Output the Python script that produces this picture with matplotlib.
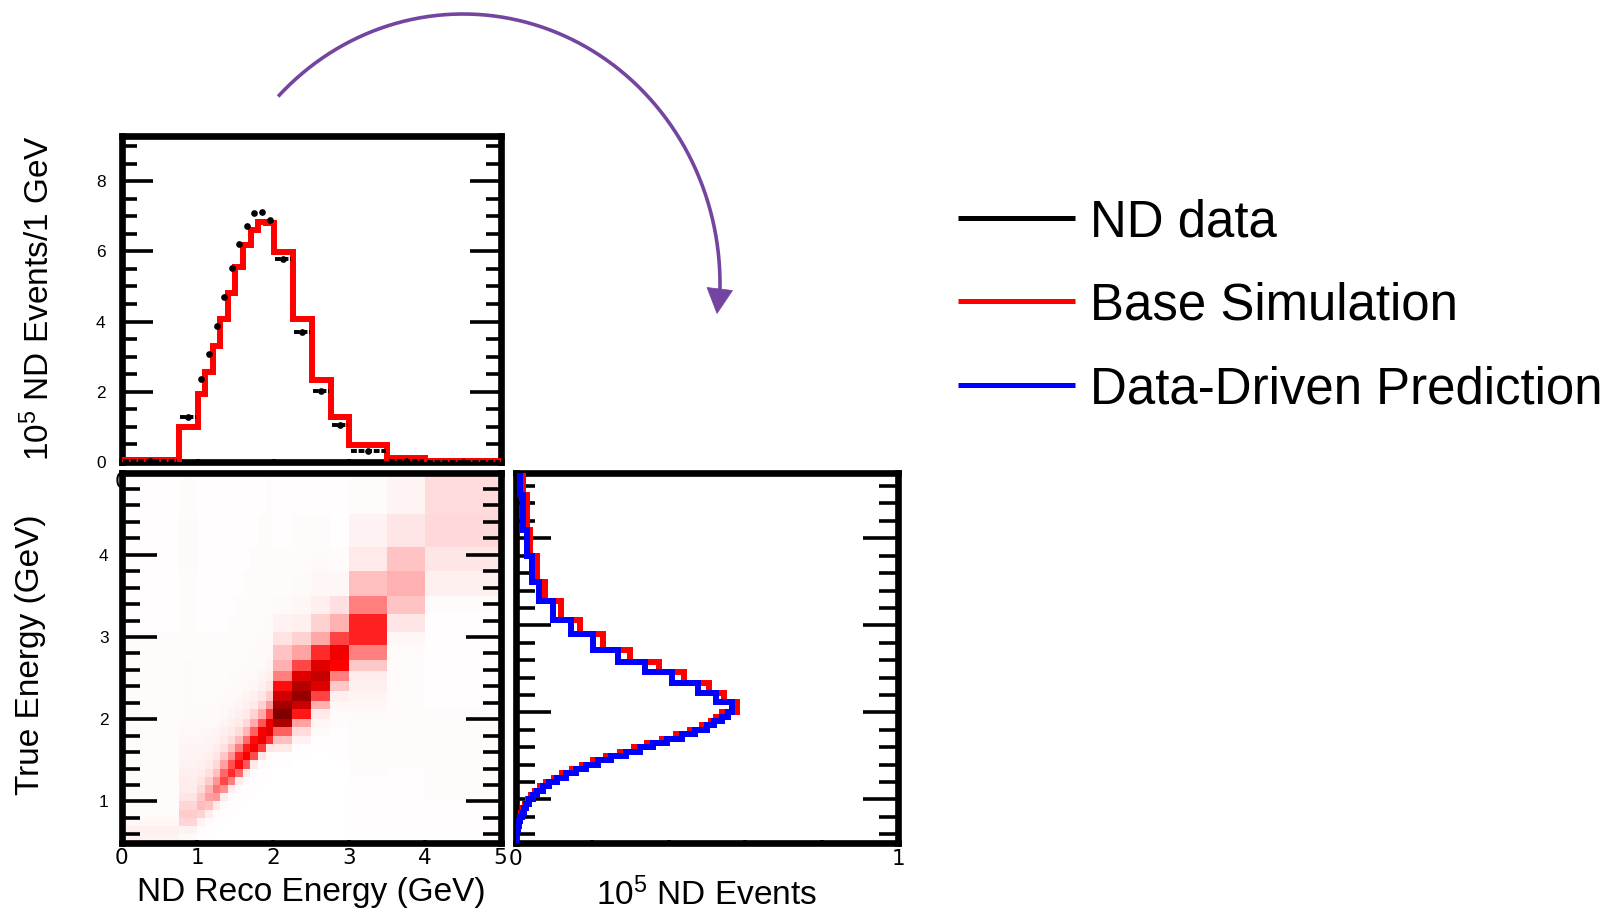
import numpy as np
import matplotlib
matplotlib.use("Agg")
import matplotlib.pyplot as plt
from matplotlib.colors import LinearSegmentedColormap
from matplotlib.ticker import FixedLocator, FixedFormatter
from matplotlib.patches import Polygon

plt.rcParams['font.family'] = ['Liberation Sans', 'DejaVu Sans']
plt.rcParams['mathtext.fontset'] = 'custom'
plt.rcParams['mathtext.rm'] = 'Liberation Sans'
plt.rcParams['mathtext.it'] = 'Liberation Sans:italic'
plt.rcParams['mathtext.bf'] = 'Liberation Sans:bold'

# ---------------- data ----------------
reco_edges = [0, 0.75, 1.0, 1.1, 1.2, 1.3, 1.4, 1.5, 1.6, 1.7, 1.8, 1.9, 2.0,
              2.25, 2.5, 2.75, 3.0, 3.5, 4.0, 5.0]
sim_reco = [0.07, 1.0, 1.95, 2.56, 3.30, 4.06, 4.82, 5.56, 6.17, 6.62, 6.84, 6.80,
            5.98, 4.08, 2.33, 1.28, 0.47, 0.10, 0.03]
data_reco = [0.02, 1.28, 2.37, 3.07, 3.88, 4.70, 5.53, 6.22, 6.72, 7.09, 7.12, 6.90,
             5.77, 3.70, 2.02, 1.04, 0.30, 0.03, 0.01]

true_edges = [0.5, 0.6, 0.7, 0.8, 0.9, 1.0, 1.1, 1.2, 1.3, 1.4, 1.5, 1.6, 1.7, 1.8, 1.9,
              2.0, 2.12, 2.22, 2.34, 2.46, 2.58, 2.72, 2.9, 3.06, 3.28, 3.5, 3.8, 4.1, 4.5, 5.0]

# 2D cell contents (relative), one list per reco-energy bin, from low to high true energy
cells_by_reco_bin = [
    [0.03, 0.035, 0.02, 0.012, 0.01, 0.01, 0.01, 0.01, 0.01, 0.01, 0.01, 0.01, 0.01, 0.01, 0.01, 0.01,
     0.008, 0.008, 0.008, 0.008, 0.008, 0.008, 0.008, 0.006, 0.006, 0.006, 0.005, 0.005, 0.005],
    [0.015, 0.03, 0.09, 0.11, 0.09, 0.06, 0.045, 0.04, 0.035, 0.03, 0.027, 0.024, 0.02, 0.018, 0.015,
     0.015, 0.013, 0.013, 0.012, 0.012, 0.012, 0.011, 0.011, 0.011, 0.01, 0.01, 0.012, 0.012, 0.008],
    [0.005, 0.008, 0.03, 0.1, 0.15, 0.12, 0.085, 0.06, 0.045, 0.035, 0.03, 0.025, 0.022, 0.018, 0.015,
     0.012, 0.012, 0.011, 0.01, 0.01, 0.01, 0.008, 0.008, 0.007, 0.007, 0.006, 0.006, 0.005, 0.005],
    [0.004, 0.005, 0.01, 0.04, 0.13, 0.21, 0.17, 0.11, 0.07, 0.05, 0.038, 0.03, 0.025, 0.02, 0.017,
     0.014, 0.012, 0.011, 0.01, 0.01, 0.009, 0.008, 0.008, 0.007, 0.006, 0.006, 0.005, 0.005, 0.004],
    [0.003, 0.004, 0.005, 0.01, 0.05, 0.22, 0.3, 0.23, 0.14, 0.085, 0.055, 0.04, 0.03, 0.024, 0.019,
     0.015, 0.013, 0.012, 0.011, 0.01, 0.009, 0.008, 0.008, 0.007, 0.006, 0.006, 0.005, 0.005, 0.004],
    [0.003, 0.003, 0.004, 0.005, 0.008, 0.04, 0.24, 0.4, 0.33, 0.21, 0.12, 0.07, 0.045, 0.032, 0.025,
     0.019, 0.016, 0.013, 0.012, 0.011, 0.01, 0.009, 0.008, 0.007, 0.006, 0.006, 0.005, 0.005, 0.004],
    [0.003, 0.003, 0.003, 0.004, 0.005, 0.008, 0.04, 0.28, 0.46, 0.38, 0.24, 0.14, 0.075, 0.048, 0.034,
     0.025, 0.019, 0.015, 0.013, 0.012, 0.011, 0.01, 0.009, 0.008, 0.007, 0.006, 0.006, 0.005, 0.005],
    [0.003, 0.003, 0.003, 0.003, 0.004, 0.005, 0.008, 0.04, 0.33, 0.53, 0.46, 0.28, 0.15, 0.08, 0.048,
     0.033, 0.024, 0.018, 0.015, 0.013, 0.012, 0.011, 0.01, 0.009, 0.008, 0.007, 0.006, 0.006, 0.005],
    [0.002, 0.003, 0.003, 0.003, 0.003, 0.004, 0.005, 0.008, 0.045, 0.36, 0.56, 0.49, 0.31, 0.16, 0.085,
     0.05, 0.033, 0.024, 0.018, 0.015, 0.013, 0.012, 0.011, 0.01, 0.009, 0.008, 0.007, 0.006, 0.006],
    [0.002, 0.002, 0.003, 0.003, 0.003, 0.003, 0.004, 0.005, 0.008, 0.05, 0.39, 0.59, 0.53, 0.34, 0.18,
     0.095, 0.05, 0.032, 0.023, 0.018, 0.015, 0.013, 0.012, 0.011, 0.01, 0.009, 0.008, 0.007, 0.006],
    [0.002, 0.002, 0.002, 0.003, 0.003, 0.003, 0.003, 0.004, 0.005, 0.008, 0.055, 0.42, 0.61, 0.57, 0.37,
     0.19, 0.1, 0.055, 0.034, 0.024, 0.018, 0.015, 0.013, 0.012, 0.011, 0.01, 0.009, 0.008, 0.007],
    [0.002, 0.002, 0.002, 0.002, 0.003, 0.003, 0.003, 0.003, 0.004, 0.005, 0.008, 0.06, 0.45, 0.64, 0.62,
     0.41, 0.22, 0.11, 0.06, 0.036, 0.025, 0.018, 0.015, 0.013, 0.012, 0.011, 0.01, 0.009, 0.008],
    [0.002, 0.002, 0.002, 0.002, 0.002, 0.003, 0.003, 0.003, 0.003, 0.004, 0.006, 0.05, 0.14, 0.34, 0.82,
     0.98, 0.87, 0.71, 0.52, 0.28, 0.17, 0.13, 0.065, 0.03, 0.015, 0.01, 0.008, 0.007, 0.006],
    [0.002, 0.002, 0.002, 0.002, 0.002, 0.002, 0.002, 0.003, 0.003, 0.003, 0.004, 0.006, 0.03, 0.08, 0.2,
     0.5, 0.72, 0.9, 0.8, 0.655, 0.4, 0.2, 0.1, 0.037, 0.02, 0.012, 0.009, 0.008, 0.007],
    [0.002, 0.002, 0.002, 0.002, 0.002, 0.002, 0.002, 0.002, 0.003, 0.003, 0.003, 0.004, 0.006, 0.012, 0.02,
     0.05, 0.17, 0.41, 0.655, 0.74, 0.655, 0.46, 0.19, 0.1, 0.037, 0.02, 0.012, 0.008, 0.006],
    [0.003, 0.003, 0.003, 0.003, 0.003, 0.003, 0.003, 0.003, 0.003, 0.003, 0.004, 0.004, 0.005, 0.006, 0.008,
     0.012, 0.02, 0.037, 0.12, 0.28, 0.55, 0.6, 0.41, 0.17, 0.07, 0.022, 0.01, 0.006, 0.004],
    [0.004, 0.004, 0.004, 0.005, 0.005, 0.006, 0.006, 0.007, 0.008, 0.008, 0.008, 0.008, 0.009, 0.01, 0.012,
     0.012, 0.02, 0.025, 0.034, 0.04, 0.12, 0.28, 0.48, 0.48, 0.28, 0.14, 0.05, 0.028, 0.008],
    [0.005, 0.005, 0.005, 0.005, 0.006, 0.006, 0.006, 0.007, 0.007, 0.008, 0.008, 0.008, 0.008, 0.008, 0.008,
     0.008, 0.008, 0.008, 0.008, 0.008, 0.008, 0.01, 0.02, 0.058, 0.13, 0.17, 0.13, 0.058, 0.024],
    [0.006, 0.006, 0.006, 0.007, 0.007, 0.008, 0.008, 0.009, 0.01, 0.01, 0.01, 0.01, 0.01, 0.01, 0.01,
     0.008, 0.007, 0.006, 0.006, 0.006, 0.006, 0.006, 0.006, 0.007, 0.008, 0.034, 0.058, 0.085, 0.08],
]

proj_edges = [0.5, 0.55, 0.6, 0.65, 0.7, 0.75, 0.8, 0.85, 0.9, 0.95, 1.0, 1.05, 1.1, 1.15, 1.2, 1.25,
              1.3, 1.35, 1.4, 1.45, 1.5, 1.55, 1.6, 1.65, 1.7, 1.75, 1.8, 1.85, 1.9, 1.95, 2.0,
              2.12, 2.22, 2.34, 2.46, 2.58, 2.72, 2.9, 3.06, 3.28, 3.5, 3.8, 4.1, 4.5, 5.0]
pred_low = [0.001, 0.002, 0.004, 0.006, 0.009, 0.012, 0.016, 0.021, 0.027, 0.035, 0.045, 0.057, 0.071,
            0.088, 0.108, 0.132, 0.158, 0.185, 0.215, 0.25, 0.29, 0.325, 0.36, 0.395, 0.435, 0.47,
            0.50, 0.52, 0.54, 0.555]
pred_high = [0.567, 0.523, 0.478, 0.408, 0.339, 0.269, 0.203, 0.144, 0.099, 0.062, 0.042, 0.029, 0.020, 0.012]
sim_low = [0.001, 0.002, 0.003, 0.005, 0.008, 0.011, 0.014, 0.019, 0.025, 0.032, 0.041, 0.052, 0.065,
           0.081, 0.1, 0.122, 0.147, 0.174, 0.203, 0.236, 0.273, 0.31, 0.345, 0.382, 0.42, 0.455,
           0.487, 0.51, 0.525, 0.54]
sim_high = [0.58, 0.545, 0.505, 0.44, 0.375, 0.299, 0.23, 0.169, 0.119, 0.077, 0.055, 0.038, 0.029, 0.02]

legend_labels = ['ND data', 'Base Simulation', 'Data-Driven Prediction']
legend_colors = ['black', '#ff0000', '#0000ff']

# ---------------- figure ----------------
W, H = 1612, 910
fig = plt.figure(figsize=(W / 100, H / 100), dpi=100, facecolor='white')


def px_axes(left, top, right, bottom):
    return fig.add_axes([left / W, 1 - bottom / H, (right - left) / W, (bottom - top) / H])


NARROW = 'Liberation Sans Narrow'
SPINE_LW = 4.8
TICK_W = 2.6
XT = 15.5    # x tick label size
YT = 12.4    # y tick label size


def frame(ax):
    for s in ax.spines.values():
        s.set_linewidth(SPINE_LW)
        s.set_color('black')
    ax.tick_params(which='both', direction='in', left=True, right=True, top=True, bottom=True,
                   width=TICK_W, color='black')


def xticks(ax, ticks, labels, pad=4):
    ax.xaxis.set_major_locator(FixedLocator(ticks))
    ax.xaxis.set_major_formatter(FixedFormatter(labels))
    ax.tick_params(axis='x', which='major', length=2.5, pad=pad, labelsize=XT,
                   labelfontfamily=NARROW)
    ax.tick_params(axis='x', which='minor', length=0)


# ---- top panel: reco energy spectrum
ax_top = px_axes(121.5, 136.5, 501.5, 462)
frame(ax_top)
ax_top.set_xlim(0, 5)
ax_top.set_ylim(0, 9.27)
ax_top.stairs(sim_reco, reco_edges, baseline=None, color='#ff0000', lw=4.3, zorder=3,
              joinstyle='miter')
edges = np.array(reco_edges)
cent = 0.5 * (edges[1:] + edges[:-1])
half = 0.5 * np.diff(edges) - 0.025
eb = ax_top.errorbar(cent, data_reco, xerr=half, fmt='o', color='black', ms=3.8,
                     elinewidth=2.8, capsize=0, zorder=4)
eb[2][0].set_linestyle((0, (1.5, 0.45)))
ax_top.yaxis.set_major_locator(FixedLocator([0, 2, 4, 6, 8]))
ax_top.yaxis.set_minor_locator(FixedLocator(list(np.arange(0.5, 9.3, 0.5))))
xticks(ax_top, [0, 1, 2, 3, 4, 5], ['0', '', '', '', '', ''], pad=7)
ax_top.tick_params(axis='y', which='major', length=22.5, labelsize=YT, pad=11.5)
ax_top.tick_params(axis='y', which='minor', length=11)

# ---- bottom-left: 2D reco vs true
ax2d = px_axes(121.7, 472.5, 500.5, 842.5)
frame(ax2d)
Z = np.array(cells_by_reco_bin).T
cmap = LinearSegmentedColormap.from_list('rootred', [(0, '#ffffff'), (0.55, '#ff0000'), (1.0, '#7a0000')])
ax2d.pcolormesh(reco_edges, true_edges, Z, cmap=cmap, vmin=0, vmax=1, shading='flat')
ax2d.set_xlim(0, 5)
ax2d.set_ylim(0.5, 5.0)
ax2d.yaxis.set_major_locator(FixedLocator([1, 2, 3, 4]))
ax2d.yaxis.set_minor_locator(FixedLocator([0.6, 0.8, 1.2, 1.4, 1.6, 1.8, 2.2, 2.4, 2.6, 2.8,
                                           3.2, 3.4, 3.6, 3.8, 4.2, 4.4, 4.6, 4.8]))
xticks(ax2d, [0, 1, 2, 3, 4, 5], ['0', '1', '2', '3', '4', '5'])
ax2d.tick_params(axis='y', which='major', length=25, labelsize=YT, pad=9.5)
ax2d.tick_params(axis='y', which='minor', length=13)

# ---- bottom-right: true energy projections
axr = px_axes(515.5, 473, 898, 843)
frame(axr)
axr.stairs(sim_low + sim_high, proj_edges, baseline=None, orientation='horizontal',
           color='#ff0000', lw=4.3, zorder=3, joinstyle='miter')
axr.stairs(pred_low + pred_high, proj_edges, baseline=None, orientation='horizontal',
           color='#0000ff', lw=4.3, zorder=3.1, joinstyle='miter')
axr.set_xlim(0, 1)
axr.set_ylim(0.5, 4.75)
axr.yaxis.set_major_locator(FixedLocator([1, 2, 3, 4]))
axr.yaxis.set_minor_locator(FixedLocator([0.6, 0.8, 1.2, 1.4, 1.6, 1.8, 2.2, 2.4, 2.6, 2.8,
                                          3.2, 3.4, 3.6, 3.8, 4.2, 4.4, 4.6]))
xticks(axr, [0, 0.2, 0.4, 0.6, 0.8, 1.0], ['0', '', '', '', '', '1'])
axr.tick_params(axis='y', which='major', length=25.5, labelleft=False)
axr.tick_params(axis='y', which='minor', length=13.5)

# ---- overlay in pixel coordinates: labels, legend, arrow
ov = fig.add_axes([0, 0, 1, 1], zorder=10)
ov.set_xlim(0, W)
ov.set_ylim(H, 0)
ov.axis('off')
ov.patch.set_alpha(0)

LBL = 24
ov.text(311, 900.5, 'ND Reco Energy (GeV)', fontsize=LBL, ha='center', va='baseline')
ov.text(706, 905, r'$\mathregular{10^{5}}$ ND Events', fontsize=LBL, ha='center', va='baseline')
ov.text(39, 298, r'$\mathregular{10^{5}}$ ND Events/1 GeV', fontsize=LBL, rotation=90,
        ha='center', va='center')
ov.text(31, 655, 'True Energy (GeV)', fontsize=LBL, rotation=90, ha='center', va='center')

for lab, col, yy in zip(legend_labels, legend_colors, [218, 301, 385]):
    ov.plot([958, 1075], [yy, yy], color=col, lw=3.6, solid_capstyle='butt')
    ov.text(1090, yy + 18.3, lab, fontsize=36.7, ha='left', va='baseline')

purple = '#7445a0'
t = np.linspace(np.deg2rad(136), 0, 300)
ax_x = 463 + 257 * np.cos(t)
ax_y = 284 - 270 * np.sin(t)
ov.plot(np.r_[ax_x, 720], np.r_[ax_y, 292], color=purple, lw=2.6, solid_capstyle='butt')
ov.add_patch(Polygon([(707, 287.5), (732.5, 290.5), (717, 313.5)], closed=True,
                     facecolor=purple, edgecolor=purple, lw=0.5))

fig.savefig('out.png', dpi=100, facecolor='white')
